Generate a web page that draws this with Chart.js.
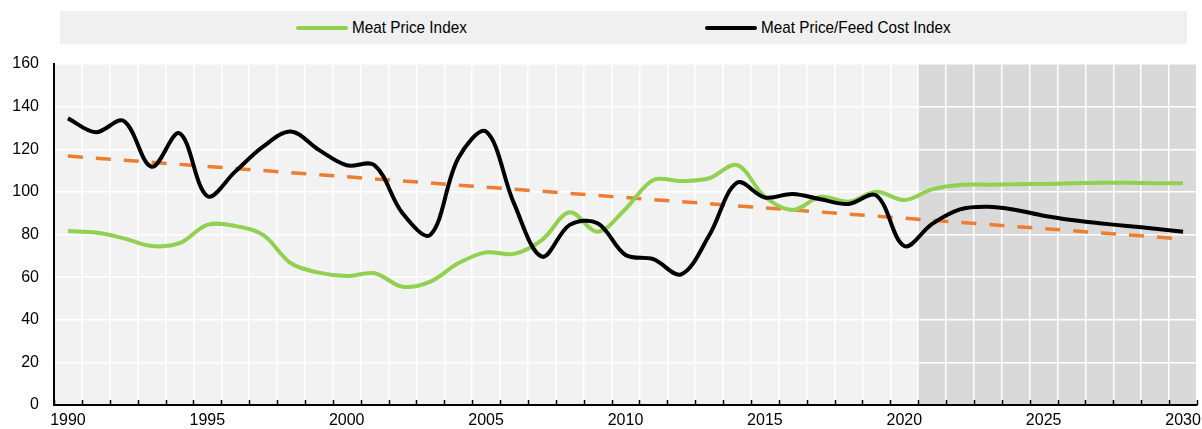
<!DOCTYPE html>
<html>
<head>
<meta charset="utf-8">
<script src="https://cdn.jsdelivr.net/npm/chart.js@4"></script>
<style>
  html, body { margin: 0; padding: 0; background: #fff; }
  #wrap { position: relative; width: 1202px; height: 429px; }
  #legend {
    position: absolute; left: 60px; top: 11px; width: 1127px; height: 33px;
    background: #f0f0f0;
    font-family: "Liberation Sans", Arial, sans-serif;
    font-size: 17px; color: #000;
  }
  .item { position: absolute; top: 0; height: 33px; line-height: 33px; white-space: nowrap; }
  .swatch { position: absolute; top: 15px; width: 52px; height: 4px; border-radius: 2px; }
  .label { position: absolute; top: 0; transform: scaleX(0.9); transform-origin: 0 50%; }
</style>
</head>
<body>
<div id="wrap">
  <canvas id="chart" width="1202" height="429"></canvas>
  <div id="legend"></div>
</div>
<script>
  const years = [
    "1990", "1991", "1992", "1993", "1994", "1995", "1996", "1997", "1998", "1999",
    "2000", "2001", "2002", "2003", "2004", "2005", "2006", "2007", "2008", "2009",
    "2010", "2011", "2012", "2013", "2014", "2015", "2016", "2017", "2018", "2019",
    "2020", "2021", "2022", "2023", "2024", "2025", "2026", "2027", "2028", "2029", "2030"
  ];

  // Meat Price Index
  const meatPrice = [
    81.6, 80.9, 78.2, 74.6, 75.9, 84.5, 84.0, 79.8, 66.5, 62.1,
    60.5, 61.8, 55.5, 57.9, 66.5, 71.6, 70.9, 77.4, 90.4, 81.3,
    92.0, 105.6, 105.1, 106.4, 112.6, 97.7, 91.5, 97.7, 95.4, 100.1,
    96.2, 101.2, 103.2, 103.4, 103.6, 103.7, 104.0, 104.3, 104.3, 104.1, 104.0
  ];

  // Meat Price/Feed Cost Index
  const priceFeedRatio = [
    134.5, 128.0, 133.3, 111.8, 127.5, 98.0, 109.5, 121.2, 128.3, 119.7,
    112.5, 112.5, 90.0, 79.8, 115.8, 128.3, 94.6, 69.6, 84.5, 85.3,
    70.4, 68.4, 61.3, 79.5, 104.3, 97.4, 99.0, 96.5, 94.3, 98.3,
    74.6, 85.0, 91.8, 93.0, 91.5, 88.8, 86.8, 85.3, 84.0, 82.7, 81.3
  ];

  // trend line end values (1990, 2030)
  const trendEnds = [116.8, 77.9];

  const yTicks = [0, 20, 40, 60, 80, 100, 120, 140, 160];
  const projectionStart = "2021";

  const FONT = "'Liberation Sans', Arial, sans-serif";

  const legendItems = [
    { text: "Meat Price Index", color: "#92D050", left: 236 },
    { text: "Meat Price/Feed Cost Index", color: "#000000", left: 645 }
  ];
  const legendEl = document.getElementById("legend");
  legendItems.forEach(function (it) {
    const d = document.createElement("div");
    d.className = "item";
    d.style.left = it.left + "px";
    d.innerHTML = '<span class="swatch" style="left:0;background:' + it.color + '"></span>' +
      '<span class="label" style="left:56px">' + it.text + '</span>';
    legendEl.appendChild(d);
  });

  const trendData = years.map(function (y, i) {
    if (i === 0) return trendEnds[0];
    if (i === years.length - 1) return trendEnds[1];
    return null;
  });

  const backdrop = {
    id: "backdrop",
    beforeDraw: function (chart) {
      const a = chart.chartArea;
      const x = chart.scales.x;
      const ctx = chart.ctx;
      ctx.save();
      ctx.fillStyle = "#f2f2f2";
      ctx.fillRect(a.left, a.top, a.right - a.left, a.bottom - a.top);
      const idx = years.indexOf(projectionStart);
      const start = (x.getPixelForValue(idx - 1) + x.getPixelForValue(idx)) / 2;
      ctx.fillStyle = "#d9d9d9";
      ctx.fillRect(start, a.top, a.right - start, a.bottom - a.top);
      ctx.restore();
    },
    afterDraw: function (chart) {
      const a = chart.chartArea;
      const x = chart.scales.x;
      const ctx = chart.ctx;
      const step = x.getPixelForValue(1) - x.getPixelForValue(0);
      ctx.save();
      ctx.strokeStyle = "#000";
      ctx.lineWidth = 1.5;
      ctx.beginPath();
      for (let i = 0; i <= years.length; i++) {
        const px = Math.round(x.getPixelForValue(0) - step / 2 + i * step) + 0.5;
        ctx.moveTo(px, a.bottom);
        ctx.lineTo(px, a.bottom - 5);
      }
      ctx.stroke();
      ctx.restore();
    }
  };

  new Chart(document.getElementById("chart"), {
    type: "line",
    data: {
      labels: years,
      datasets: [
        {
          label: "Trend",
          data: trendData,
          borderColor: "#ED7D31",
          borderWidth: 3.5,
          borderDash: [15, 13],
          pointRadius: 0,
          spanGaps: true,
          tension: 0,
          order: 3
        },
        {
          label: "Meat Price Index",
          data: meatPrice,
          borderColor: "#92D050",
          borderWidth: 4,
          pointRadius: 0,
          tension: 0.35,
          order: 2
        },
        {
          label: "Meat Price/Feed Cost Index",
          data: priceFeedRatio,
          borderColor: "#000000",
          borderWidth: 4,
          pointRadius: 0,
          tension: 0.35,
          order: 1
        }
      ]
    },
    options: {
      responsive: false,
      devicePixelRatio: 1,
      animation: false,
      layout: { padding: { top: 64, right: 5, left: 0, bottom: 0 } },
      plugins: { legend: { display: false }, tooltip: { enabled: false } },
      scales: {
        x: {
          offset: true,
          grid: { offset: true, color: "#ffffff", lineWidth: 1.5, drawTicks: false },
          border: { color: "#000000", width: 2 },
          ticks: {
            autoSkip: false,
            maxRotation: 0,
            padding: 6,
            color: "#000",
            font: { family: FONT, size: 16 },
            callback: function (v, i) { return Number(years[i]) % 5 === 0 ? years[i] : ""; }
          },
          afterFit: function (s) { s.height = 24; s.paddingLeft = 0; s.paddingRight = 0; }
        },
        y: {
          min: 0,
          max: 160,
          afterBuildTicks: function (s) { s.ticks = yTicks.map(function (v) { return { value: v }; }); },
          grid: { color: "#ffffff", lineWidth: 1.5, drawTicks: false },
          border: { color: "#000000", width: 2 },
          ticks: { padding: 15, color: "#000", font: { family: FONT, size: 16 } },
          afterFit: function (s) { s.width = 54; s.paddingTop = 0; s.paddingBottom = 0; }
        }
      }
    },
    plugins: [backdrop]
  });
</script>
</body>
</html>
